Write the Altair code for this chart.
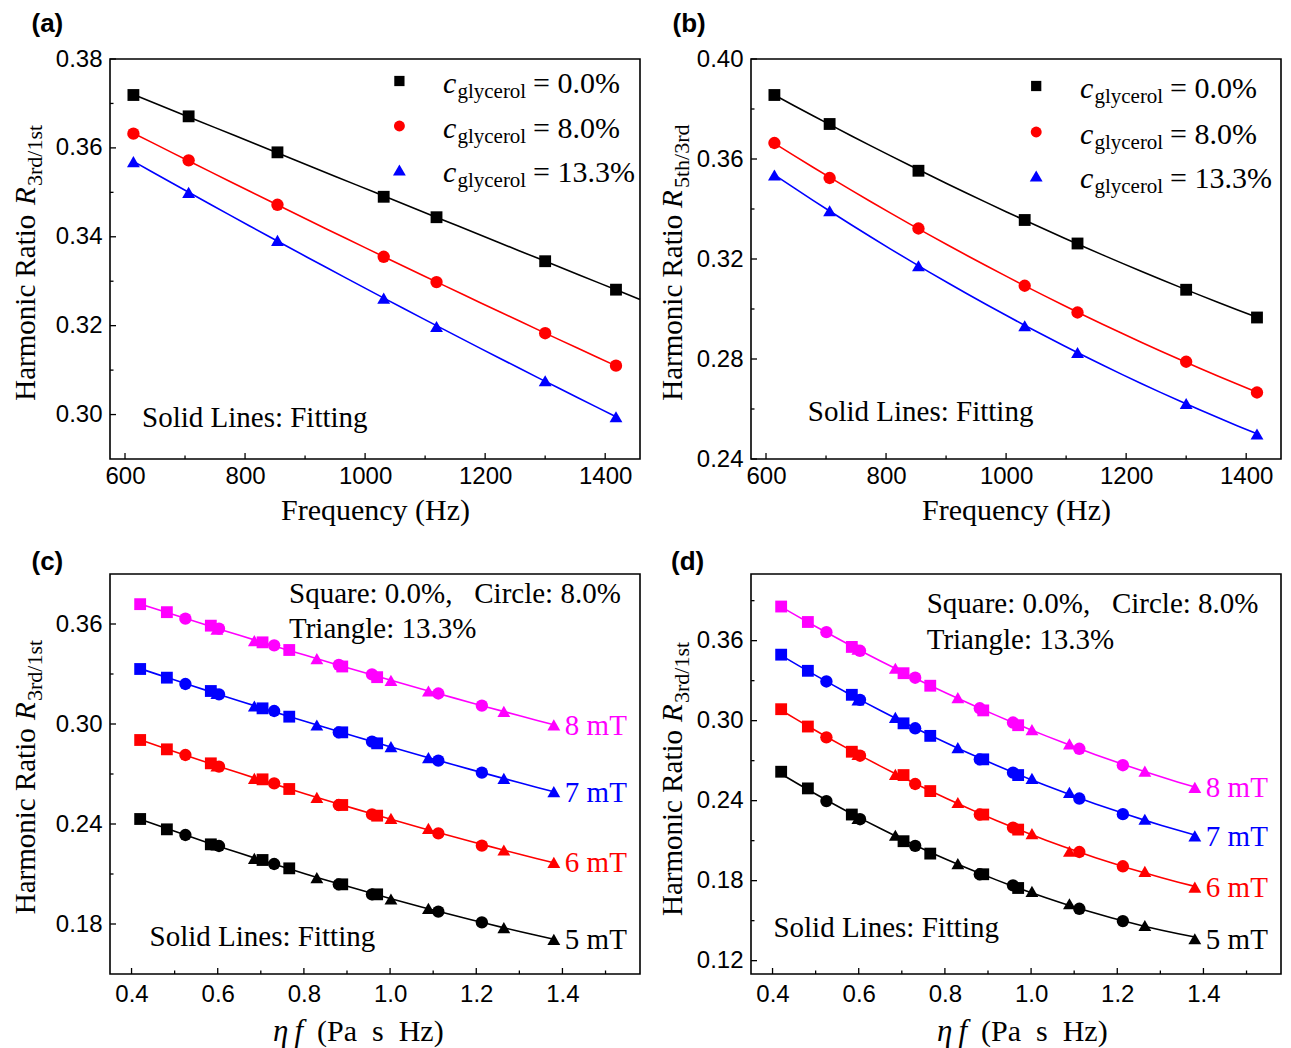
import altair as alt
import pandas as pd

SERIF = "Liberation Serif"
SANS = "Liberation Sans"
W, H = 530, 400
NB = "\u00a0"

# ---------------- data ----------------
conc = ["0.0%", "8.0%", "13.3%"]
shapes = ["square", "circle", "triangle-up"]
msize = [140, 165, 225]

freq = [614, 706, 854, 1031, 1119, 1300, 1418]

# (a) R_3rd/1st vs frequency (8 mT)
a_c0 = [0.3719, 0.3671, 0.3590, 0.3490, 0.3444, 0.3345, 0.3281]
a_c8 = [0.3632, 0.3572, 0.3472, 0.3355, 0.3298, 0.3183, 0.3110]
a_c13 = [0.3569, 0.3500, 0.3392, 0.3262, 0.3198, 0.3076, 0.2995]

# (b) R_5th/3rd vs frequency (8 mT)
b_c0 = [0.3856, 0.3740, 0.3553, 0.3356, 0.3262, 0.3077, 0.2966]
b_c8 = [0.3664, 0.3524, 0.3322, 0.3093, 0.2986, 0.2789, 0.2666]
b_c13 = [0.3536, 0.3393, 0.3173, 0.2933, 0.2826, 0.2622, 0.2500]

# eta*f positions (Pa s Hz)
ef_c0 = [0.420, 0.482, 0.584, 0.704, 0.766, 0.889, 0.970]
ef_c8 = [0.525, 0.603, 0.731, 0.881, 0.958, 1.112, 1.213]
ef_c13 = [0.598, 0.685, 0.830, 1.002, 1.089, 1.264, 1.380]

fields = ["5 mT", "6 mT", "7 mT", "8 mT"]
field_colors = ["#000000", "#ff0000", "#0000ff", "#ff00ff"]

# (c) R_3rd/1st vs eta f
c5_c0 = [0.2430, 0.2368, 0.2278, 0.2184, 0.2134, 0.2038, 0.1978]
c5_c8 = [0.2334, 0.2268, 0.2160, 0.2038, 0.1978, 0.1874, 0.1810]
c5_c13 = [0.2274, 0.2194, 0.2078, 0.1950, 0.1894, 0.1778, 0.1708]
c6_c0 = [0.2904, 0.2848, 0.2764, 0.2668, 0.2610, 0.2514, 0.2450]
c6_c8 = [0.2814, 0.2744, 0.2644, 0.2514, 0.2458, 0.2344, 0.2270]
c6_c13 = [0.2748, 0.2674, 0.2560, 0.2434, 0.2374, 0.2244, 0.2170]
c7_c0 = [0.3330, 0.3278, 0.3198, 0.3094, 0.3044, 0.2950, 0.2884]
c7_c8 = [0.3240, 0.3178, 0.3078, 0.2950, 0.2894, 0.2780, 0.2708]
c7_c13 = [0.3184, 0.3108, 0.2994, 0.2864, 0.2798, 0.2674, 0.2594]
c8_c0 = a_c0
c8_c8 = a_c8
c8_c13 = a_c13

# (d) R_5th/3rd vs eta f
d5_c0 = [0.2617, 0.2492, 0.2296, 0.2096, 0.2003, 0.1848, 0.1745]
d5_c8 = [0.2397, 0.2261, 0.2061, 0.1848, 0.1765, 0.1589, 0.1497]
d5_c13 = [0.2266, 0.2141, 0.1928, 0.1720, 0.1627, 0.1464, 0.1364]
d6_c0 = [0.3086, 0.2956, 0.2767, 0.2592, 0.2472, 0.2296, 0.2183]
d6_c8 = [0.2875, 0.2737, 0.2525, 0.2296, 0.2198, 0.2015, 0.1908]
d6_c13 = [0.2747, 0.2597, 0.2386, 0.2153, 0.2021, 0.1870, 0.1752]
d7_c0 = [0.3495, 0.3374, 0.3194, 0.2980, 0.2886, 0.2710, 0.2592]
d7_c8 = [0.3294, 0.3156, 0.2943, 0.2710, 0.2610, 0.2416, 0.2299]
d7_c13 = [0.3156, 0.3025, 0.2798, 0.2567, 0.2462, 0.2261, 0.2136]
d8_c0 = b_c0
d8_c8 = b_c8
d8_c13 = b_c13

# axis ticks
freq_major = [600, 800, 1000, 1200, 1400]
freq_minor = [700, 900, 1100, 1300]
ef_major = [0.4, 0.6, 0.8, 1.0, 1.2, 1.4]
ef_minor = [0.5, 0.7, 0.9, 1.1, 1.3, 1.5]
a_ymaj = [0.30, 0.32, 0.34, 0.36, 0.38]
a_ymin = [0.31, 0.33, 0.35, 0.37]
b_ymaj = [0.24, 0.28, 0.32, 0.36, 0.40]
b_ymin = [0.26, 0.30, 0.34, 0.38]
c_ymaj = [0.18, 0.24, 0.30, 0.36]
c_ymin = [0.21, 0.27, 0.33]
d_ymaj = [0.12, 0.18, 0.24, 0.30, 0.36]
d_ymin = [0.15, 0.21, 0.27, 0.33, 0.39]

freq_dom = [575, 1458]
ef_dom = [0.35, 1.58]

one = pd.DataFrame({"k": [0]})


def sc(dom):
    return alt.Scale(domain=dom, nice=False, zero=False)


def txt(s, x, y, size=29, font=SERIF, style="normal", weight="normal",
        color="black", angle=0, align="left", baseline="alphabetic"):
    return alt.Chart(one).mark_text(
        text=s, font=font, fontSize=size, fontStyle=style, fontWeight=weight,
        color=color, angle=angle, align=align, baseline=baseline
    ).encode(x=alt.value(x), y=alt.value(y))


def tick_layers(xdom, ydom, xmaj, xmin, ymaj, ymin, xax, yax):
    out = []
    for vals, L in ((xmaj, 6), (xmin, 3.5)):
        out.append(alt.Chart(pd.DataFrame({"x": vals})).mark_rule(
            color="black", strokeWidth=1.3).encode(
            x=alt.X("x:Q", scale=sc(xdom), axis=xax),
            y=alt.value(H), y2=alt.value(H - L)))
    for vals, L in ((ymaj, 6), (ymin, 3.5)):
        out.append(alt.Chart(pd.DataFrame({"y": vals})).mark_rule(
            color="black", strokeWidth=1.3).encode(
            y=alt.Y("y:Q", scale=sc(ydom), axis=yax),
            x=alt.value(0), x2=alt.value(L)))
    return out


def ytitle(sub, xb, y0, yR, ysub):
    return [
        txt("Harmonic Ratio", xb, y0, angle=270),
        txt("R", xb, yR, style="italic", angle=270),
        txt(sub, xb + 7, ysub, size=22, angle=270),
    ]


def xaxis_freq():
    return alt.Axis(values=freq_major, format="d", labelPadding=5,
                    title="Frequency (Hz)", titleY=60, titleBaseline="alphabetic")


def xaxis_ef():
    return alt.Axis(values=ef_major, format=".1f", labelPadding=8, title=None)


def yaxis(vals):
    return alt.Axis(values=vals, format=".2f", labelPadding=8, title=None)


conc_color = alt.Scale(domain=conc, range=["#000000", "#ff0000", "#0000ff"])
field_color = alt.Scale(domain=fields, range=field_colors)
shape_sc = alt.Scale(domain=conc, range=shapes)
size_sc = alt.Scale(domain=conc, range=msize)


def freq_panel(ys, ydom, ymaj, ymin, extend_black, sub, yt, leg, fit_pos, tag):
    df = pd.DataFrame({
        "x": freq * 3,
        "y": ys[0] + ys[1] + ys[2],
        "conc": [c for c in conc for _ in freq],
    })
    xax = xaxis_freq()
    yax = yaxis(ymaj)
    X = alt.X("x:Q", scale=sc(freq_dom), axis=xax)
    Y = alt.Y("y:Q", scale=sc(ydom), axis=yax)
    col = alt.Color("conc:N", scale=conc_color, legend=None)
    layers = tick_layers(freq_dom, ydom, freq_major, freq_minor, ymaj, ymin, xax, yax)
    if extend_black:
        fa = alt.Chart(df).transform_filter(alt.datum.conc == "0.0%").transform_regression(
            "x", "y", groupby=["conc"], method="poly", order=2,
            extent=[freq[0], freq_dom[1]]).mark_line(strokeWidth=1.6).encode(x=X, y=Y, color=col)
        fb = alt.Chart(df).transform_filter(alt.datum.conc != "0.0%").transform_regression(
            "x", "y", groupby=["conc"], method="poly", order=2).mark_line(
            strokeWidth=1.6).encode(x=X, y=Y, color=col)
        layers += [fa, fb]
    else:
        layers.append(alt.Chart(df).transform_regression(
            "x", "y", groupby=["conc"], method="poly", order=2).mark_line(
            strokeWidth=1.6).encode(x=X, y=Y, color=col))
    layers.append(alt.Chart(df).mark_point(filled=True, opacity=1).encode(
        x=X, y=Y, color=col,
        shape=alt.Shape("conc:N", scale=shape_sc, legend=None),
        size=alt.Size("conc:N", scale=size_sc, legend=None),
    ))
    # legend
    mx, rows, cx = leg
    for i, (c, shp, sz, colr) in enumerate(zip(conc, shapes, [105, 120, 165],
                                               ["#000000", "#ff0000", "#0000ff"])):
        ym = rows[i]
        layers.append(alt.Chart(one).mark_point(shape=shp, filled=True, size=sz,
                                                color=colr, opacity=1).encode(
            x=alt.value(mx), y=alt.value(ym)))
        yb = ym + 12
        layers.append(txt("c", cx, yb, size=30, style="italic"))
        layers.append(txt("glycerol", cx + 14.4, yb + 5, size=21))
        layers.append(txt("= " + c, cx + 90, yb, size=30))
    layers.append(txt("Solid Lines: Fitting", fit_pos[0], fit_pos[1]))
    layers += ytitle(sub, *yt)
    layers.append(txt(tag, -78.5, -27, size=26, font=SANS, weight="bold"))
    return alt.layer(*layers).properties(width=W, height=H)


def ef_panel(yd, ydom, ymaj, ymin, yt, note_pos, fit_pos, xt, tag_y, tag_x):
    rows = []
    for fi, f in enumerate(fields):
        for ci, c in enumerate(conc):
            xs = [ef_c0, ef_c8, ef_c13][ci]
            for xv, yv in zip(xs, yd[fi][ci]):
                rows.append({"x": xv, "y": yv, "conc": c, "field": f})
    df = pd.DataFrame(rows)
    xax = xaxis_ef()
    yax = yaxis(ymaj)
    X = alt.X("x:Q", scale=sc(ef_dom), axis=xax)
    Y = alt.Y("y:Q", scale=sc(ydom), axis=yax)
    col = alt.Color("field:N", scale=field_color, legend=None)
    layers = tick_layers(ef_dom, ydom, ef_major, ef_minor, ymaj, ymin, xax, yax)
    layers.append(alt.Chart(df).transform_regression(
        "x", "y", groupby=["field"], method="poly", order=2).mark_line(
        strokeWidth=1.6).encode(x=X, y=Y, color=col))
    layers.append(alt.Chart(df).mark_point(filled=True, opacity=1).encode(
        x=X, y=Y, color=col,
        shape=alt.Shape("conc:N", scale=shape_sc, legend=None),
        size=alt.Size("conc:N", scale=size_sc, legend=None),
    ))
    lab = pd.DataFrame({"field": fields, "x": [ef_c13[-1]] * 4,
                        "y": [yd[i][2][-1] for i in range(4)]})
    layers.append(alt.Chart(lab).mark_text(font=SERIF, fontSize=29, align="left",
                                           baseline="alphabetic", dx=11, dy=10).encode(
        x=X, y=Y, text="field:N", color=col))
    layers.append(txt("Square: 0.0%," + NB * 3 + "Circle: 8.0%", note_pos[0], note_pos[1]))
    layers.append(txt("Triangle: 13.3%", note_pos[0], note_pos[2]))
    layers.append(txt("Solid Lines: Fitting", fit_pos[0], fit_pos[1]))
    layers.append(txt("\u03b7" + "\u2009" + "f", xt[0], H + 67, size=31, style="italic"))
    layers.append(txt("(Pa" + NB * 2 + "s" + NB * 2 + "Hz)", xt[1], H + 67, size=30))
    layers += ytitle("3rd/1st", *yt)
    layers.append(txt(tag_y, tag_x, -4, size=26, font=SANS, weight="bold"))
    return alt.layer(*layers).properties(width=W, height=H)


pa = freq_panel([a_c0, a_c8, a_c13], [0.29, 0.38], a_ymaj, a_ymin, True, "3rd/1st",
                (-75.3, 341.7, 146, 127), (289.4, [22, 67, 111], 333), (32, 368.4), "(a)")
pb = freq_panel([b_c0, b_c8, b_c13], [0.24, 0.40], b_ymaj, b_ymin, False, "5th/3rd",
                (-68.6, 341.7, 149, 129), (285.2, [27, 73, 117], 329), (56.8, 361.7), "(b)")
pc = ef_panel([[c5_c0, c5_c8, c5_c13], [c6_c0, c6_c8, c6_c13],
               [c7_c0, c7_c8, c7_c13], [c8_c0, c8_c8, c8_c13]],
              [0.15, 0.39], c_ymaj, c_ymin, (-75.3, 340.3, 146, 127),
              (179, 28.7, 63.7), (39.6, 372), (163, 207), "(c)", -78.5)
pd_ = ef_panel([[d5_c0, d5_c8, d5_c13], [d6_c0, d6_c8, d6_c13],
                [d7_c0, d7_c8, d7_c13], [d8_c0, d8_c8, d8_c13]],
               [0.11, 0.41], d_ymaj, d_ymin, (-69, 342, 148, 129),
               (175.7, 38.7, 75.3), (22.4, 362.7), (186, 230), "(d)", -80)

chart = alt.concat(
    pa, pb, pc, pd_, columns=2, spacing={"row": 115, "column": 111}, bounds="flush"
).resolve_scale(
    color="independent"
).configure_view(
    stroke="black", strokeWidth=1.6
).configure_axis(
    labelFont=SANS, labelFontSize=24, labelColor="black", ticks=False, tickSize=0,
    domain=False, grid=False, labelFlush=False, labelOverlap=False,
    titleFont=SERIF, titleFontSize=30, titleFontWeight="normal", titleColor="black"
).properties(
    padding={"left": 10, "top": 10, "right": 5, "bottom": 5},
    background="white"
)

chart.save("out.html", embed_options={"renderer": "svg", "actions": False})
